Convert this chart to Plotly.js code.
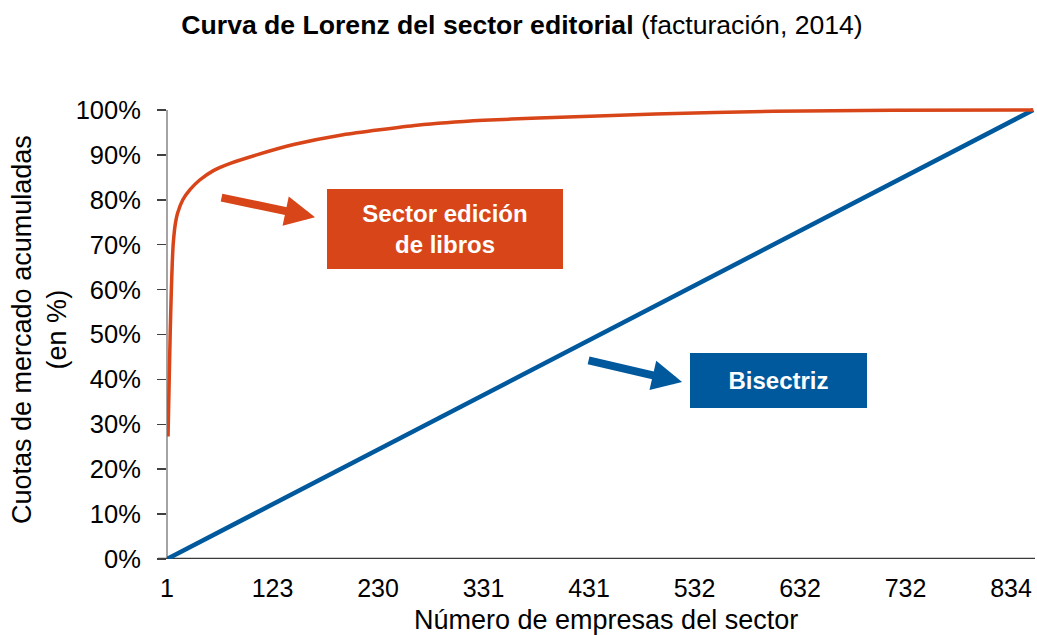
<!DOCTYPE html>
<html>
<head>
<meta charset="utf-8">
<script src="https://cdn.plot.ly/plotly-3.0.1.min.js"></script>
<style>html,body{margin:0;padding:0;background:#fff;}#chart{width:1037px;height:635px;}</style>
</head>
<body>
<div id="chart"></div>
<script>
// Category positions (index along the axis) and labels
const tickPositions = [0, 100, 200, 300, 400, 500, 600, 700, 800];
const tickLabels = ['1', '123', '230', '331', '431', '532', '632', '732', '834'];

// Lorenz curve (sector edición de libros), cumulative share in %
const posLorenz = [1, 2, 3, 4, 5, 6, 8, 10, 15, 22, 31, 44, 60, 85, 120, 167, 237, 300, 352, 463, 575, 687, 821];
const cuotaLorenz = [27.3, 39, 50, 59, 66, 70.5, 74.8, 77, 80, 82.3, 84.4, 86.5, 88.1, 90, 92.3, 94.5, 96.6, 97.7, 98.2, 99.1, 99.7, 99.95, 100];

// Bisectriz (line of equality)
const posBisectriz = [0, 821];
const cuotaBisectriz = [0, 100];

const yTicks = [0, 10, 20, 30, 40, 50, 60, 70, 80, 90, 100];
const yTickLabels = yTicks.map(v => v + '%');

const ORANGE = '#D84519';
const BLUE = '#00599D';
const FONT = 'Liberation Sans, Arial, sans-serif';

const traces = [
  {
    x: posBisectriz, y: cuotaBisectriz, type: 'scatter', mode: 'lines',
    line: {color: BLUE, width: 4.5}, hoverinfo: 'skip', name: 'Bisectriz'
  },
  {
    x: posLorenz, y: cuotaLorenz, type: 'scatter', mode: 'lines',
    line: {color: ORANGE, width: 3.5, shape: 'spline', smoothing: 0.5}, hoverinfo: 'skip', name: 'Sector edición de libros'
  }
];

const layout = {
  width: 1037, height: 635,
  margin: {l: 167, r: 2, t: 100.5, b: 75.5},
  paper_bgcolor: '#fff', plot_bgcolor: '#fff',
  showlegend: false,
  font: {family: FONT, color: '#000', size: 25},
  title: {
    text: '<b>Curva de Lorenz del sector editorial</b> (facturación, 2014)',
    font: {family: FONT, size: 26.6, color: '#000'},
    xref: 'container', x: 522 / 1037, xanchor: 'center',
    yref: 'container', y: 1 - 25 / 635, yanchor: 'middle'
  },
  xaxis: {
    range: [0, 822.7], tickmode: 'array', tickvals: tickPositions, ticktext: tickLabels,
    ticks: '', showline: false, showgrid: false, zeroline: false,
    tickfont: {family: FONT, size: 25, color: '#000'}, ticklabelstandoff: 12
  },
  yaxis: {
    range: [0, 102], tickmode: 'array', tickvals: yTicks, ticktext: yTickLabels,
    ticks: 'outside', ticklen: 9, tickwidth: 1.5, tickcolor: '#404040',
    showline: false, showgrid: false, zeroline: false,
    tickfont: {family: FONT, size: 25.5, color: '#000'}, ticklabelstandoff: 11
  },
  shapes: [
    {type: 'line', xref: 'paper', yref: 'y', x0: 0, x1: 0, y0: 0, y1: 100, line: {color: '#868686', width: 1.5}, layer: 'below'},
    {type: 'line', xref: 'paper', yref: 'y', x0: -9 / 868, x1: 1, y0: 0, y1: 0, line: {color: '#3a3a3a', width: 2.5}, layer: 'below'}
  ],
  annotations: [
    {
      text: 'Cuotas de mercado acumuladas<br>(en %)', textangle: -90,
      xref: 'paper', yref: 'paper', x: (39 - 167) / 868, y: 0.5, xanchor: 'center', yanchor: 'middle',
      showarrow: false, font: {family: FONT, size: 27, color: '#000'}
    },
    {
      text: 'Número de empresas del sector',
      xref: 'paper', yref: 'paper', x: (606 - 167) / 868, y: -(621 - 559.5) / 459, xanchor: 'center', yanchor: 'middle',
      showarrow: false, font: {family: FONT, size: 27, color: '#000'}
    },
    {
      text: '<b>Sector edición<br>de libros</b>', xref: 'x', yref: 'y', x: 263.5, y: 73.4,
      xanchor: 'center', yanchor: 'middle', showarrow: false,
      width: 236, height: 80, bgcolor: ORANGE, borderpad: 0, borderwidth: 0,
      font: {family: FONT, size: 24, color: '#fff'}
    },
    {
      text: '<b>Bisectriz</b>', xref: 'x', yref: 'y', x: 579.6, y: 39.8,
      xanchor: 'center', yanchor: 'middle', showarrow: false,
      width: 177, height: 55, bgcolor: BLUE, borderpad: 0, borderwidth: 0,
      font: {family: FONT, size: 24, color: '#fff'}
    },
    {
      text: '', xref: 'x', yref: 'y', x: 140.3, y: 76.1, ax: -95, ay: -20,
      showarrow: true, arrowhead: 2, arrowwidth: 8, arrowsize: 0.75, arrowcolor: ORANGE, standoff: 0
    },
    {
      text: '', xref: 'x', yref: 'y', x: 488.2, y: 39.4, ax: -95, ay: -22,
      showarrow: true, arrowhead: 2, arrowwidth: 8, arrowsize: 0.75, arrowcolor: BLUE, standoff: 0
    }
  ]
};

Plotly.newPlot('chart', traces, layout, {displayModeBar: false, staticPlot: true});
</script>
</body>
</html>
